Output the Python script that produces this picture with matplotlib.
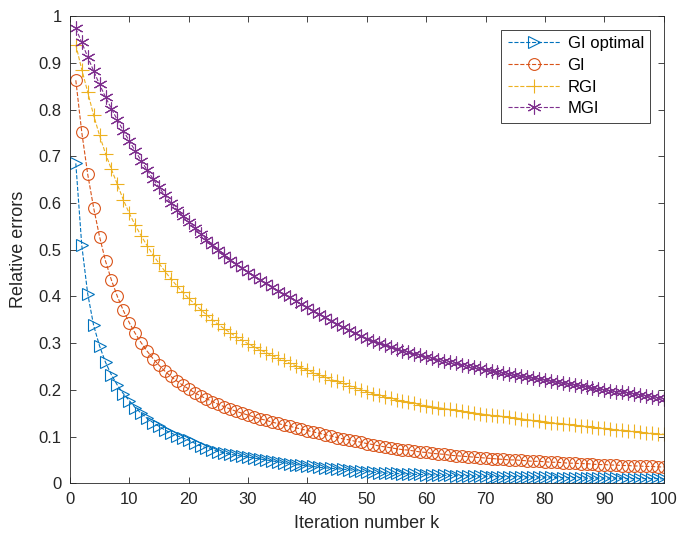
import numpy as np
import matplotlib
matplotlib.use("Agg")
import matplotlib.pyplot as plt
from matplotlib.ticker import FuncFormatter

plt.rcParams['font.family'] = ['Liberation Sans', 'DejaVu Sans']

# iteration index
k = np.arange(1, 101)

# relative errors
gi_optimal = [
    0.685, 0.510, 0.406, 0.338, 0.294, 0.259, 0.232, 0.210, 0.192, 0.177,
    0.162, 0.150, 0.139, 0.130, 0.122, 0.114, 0.108, 0.102, 0.097, 0.092,
    0.086, 0.080, 0.076, 0.072, 0.068, 0.065, 0.062, 0.060, 0.058, 0.056,
    0.054, 0.052, 0.050, 0.048, 0.046, 0.044, 0.042, 0.040, 0.039, 0.037,
    0.036, 0.034, 0.033, 0.032, 0.031, 0.030, 0.029, 0.027, 0.026, 0.025,
    0.024, 0.022, 0.022, 0.021, 0.021, 0.020, 0.020, 0.019, 0.019, 0.018,
    0.018, 0.017, 0.017, 0.017, 0.016, 0.016, 0.016, 0.015, 0.015, 0.015,
    0.014, 0.014, 0.014, 0.014, 0.014, 0.014, 0.013, 0.013, 0.013, 0.013,
    0.013, 0.012, 0.012, 0.012, 0.012, 0.012, 0.011, 0.011, 0.011, 0.011,
    0.011, 0.011, 0.010, 0.010, 0.010, 0.010, 0.010, 0.010, 0.010, 0.009,
]
gi = [
    0.863, 0.752, 0.662, 0.590, 0.528, 0.476, 0.435, 0.400, 0.370, 0.344,
    0.321, 0.301, 0.283, 0.267, 0.253, 0.240, 0.229, 0.219, 0.210, 0.202,
    0.194, 0.187, 0.181, 0.175, 0.169, 0.164, 0.159, 0.154, 0.150, 0.146,
    0.142, 0.138, 0.135, 0.131, 0.128, 0.125, 0.122, 0.119, 0.116, 0.113,
    0.110, 0.107, 0.104, 0.101, 0.098, 0.095, 0.093, 0.090, 0.088, 0.085,
    0.083, 0.080, 0.078, 0.076, 0.074, 0.072, 0.071, 0.069, 0.067, 0.066,
    0.064, 0.063, 0.062, 0.060, 0.059, 0.058, 0.057, 0.056, 0.055, 0.054,
    0.053, 0.052, 0.051, 0.050, 0.050, 0.049, 0.048, 0.047, 0.047, 0.046,
    0.045, 0.045, 0.044, 0.043, 0.043, 0.042, 0.042, 0.041, 0.040, 0.040,
    0.039, 0.039, 0.038, 0.038, 0.037, 0.037, 0.036, 0.036, 0.035, 0.035,
]
rgi = [
    0.939, 0.886, 0.838, 0.788, 0.745, 0.706, 0.672, 0.640, 0.607, 0.578,
    0.553, 0.530, 0.509, 0.489, 0.471, 0.454, 0.438, 0.423, 0.409, 0.396,
    0.384, 0.372, 0.361, 0.350, 0.340, 0.331, 0.322, 0.314, 0.306, 0.299,
    0.292, 0.286, 0.280, 0.274, 0.268, 0.263, 0.257, 0.252, 0.247, 0.242,
    0.237, 0.232, 0.227, 0.222, 0.218, 0.214, 0.209, 0.205, 0.200, 0.196,
    0.192, 0.188, 0.185, 0.182, 0.179, 0.176, 0.173, 0.171, 0.168, 0.166,
    0.164, 0.162, 0.160, 0.158, 0.156, 0.154, 0.152, 0.150, 0.149, 0.147,
    0.146, 0.144, 0.143, 0.141, 0.140, 0.138, 0.136, 0.135, 0.133, 0.132,
    0.130, 0.129, 0.127, 0.126, 0.124, 0.123, 0.122, 0.120, 0.119, 0.118,
    0.116, 0.115, 0.114, 0.112, 0.111, 0.110, 0.108, 0.107, 0.106, 0.105,
]
mgi = [
    0.974, 0.944, 0.913, 0.883, 0.854, 0.827, 0.802, 0.778, 0.755, 0.733,
    0.712, 0.691, 0.671, 0.652, 0.634, 0.617, 0.601, 0.586, 0.572, 0.559,
    0.546, 0.534, 0.522, 0.511, 0.500, 0.489, 0.479, 0.469, 0.460, 0.452,
    0.444, 0.436, 0.428, 0.420, 0.412, 0.405, 0.398, 0.391, 0.384, 0.377,
    0.369, 0.362, 0.355, 0.348, 0.341, 0.335, 0.328, 0.322, 0.316, 0.310,
    0.305, 0.300, 0.296, 0.292, 0.288, 0.284, 0.281, 0.277, 0.274, 0.271,
    0.268, 0.265, 0.262, 0.260, 0.257, 0.254, 0.251, 0.248, 0.246, 0.243,
    0.240, 0.238, 0.236, 0.233, 0.231, 0.229, 0.227, 0.225, 0.223, 0.221,
    0.219, 0.216, 0.214, 0.212, 0.210, 0.208, 0.206, 0.204, 0.202, 0.200,
    0.198, 0.196, 0.195, 0.193, 0.191, 0.189, 0.187, 0.185, 0.183, 0.181,
]

labels = ["GI optimal", "GI", "RGI", "MGI"]
colors = ["#0072BD", "#D95319", "#EDB120", "#7E2F8E"]
markers = [">", "o", "+", (6, 2, 0)]
sizes = [8, 8.5, 10, 10]

fig = plt.figure(figsize=(6.85, 5.43), dpi=100)
ax = fig.add_axes([0.102, 0.110, 0.867, 0.860])

for y, lab, c, m, s in zip([gi_optimal, gi, rgi, mgi], labels, colors, markers, sizes):
    ax.plot(k, y, linestyle="--", color=c, marker=m, markersize=s,
            markerfacecolor="none", markeredgewidth=0.8, linewidth=0.8, label=lab)

ax.set_xlim(0, 100)
ax.set_ylim(0, 1)
ax.set_xticks(np.arange(0, 101, 10))
ax.set_yticks(np.arange(0, 1.01, 0.1))
ax.yaxis.set_major_formatter(FuncFormatter(lambda v, p: "%g" % round(v, 1)))
ax.tick_params(direction="in", top=True, right=True, length=4, width=0.6,
               labelsize=12, colors="#262626", pad=6)
for sp in ax.spines.values():
    sp.set_linewidth(0.6)
    sp.set_color("#262626")

ax.set_xlabel("Iteration number k", fontsize=13, color="#262626", labelpad=6)
ax.set_ylabel("Relative errors", fontsize=13, color="#262626", labelpad=8)

leg = ax.legend(loc="upper right", fontsize=12, handlelength=3.2, handletextpad=0.4,
                labelspacing=0.4, borderaxespad=0.8, fancybox=False, framealpha=1,
                borderpad=0.4)
leg.get_frame().set_edgecolor("#262626")
leg.get_frame().set_linewidth(0.6)

fig.savefig("out.png", dpi=100)
